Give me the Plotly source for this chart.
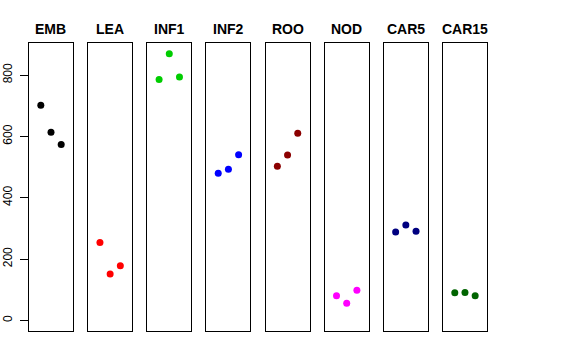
import plotly.graph_objects as go

tissues = ["EMB", "LEA", "INF1", "INF2", "ROO", "NOD", "CAR5", "CAR15"]
colors = ["#000000", "#FF0000", "#00CD00", "#0000FF", "#8B0000", "#FF00FF", "#000080", "#006400"]
replicate = [1, 2, 3]

emb = [702, 614, 574]
lea = [254, 151, 178]
inf1 = [786, 870, 794]
inf2 = [480, 493, 540]
roo = [503, 539, 610]
nod = [80, 56, 98]
car5 = [288, 311, 291]
car15 = [90, 91, 80]
values = [emb, lea, inf1, inf2, roo, nod, car5, car15]

y_ticks = [0, 200, 400, 600, 800]

W, H = 576, 360
fig = go.Figure()
left0, step, pw = 29, 59.14, 44
top, bottom = 43, 331

for i, (name, col, vals) in enumerate(zip(tissues, colors, values)):
    k = "" if i == 0 else str(i + 1)
    fig.add_trace(go.Scatter(
        x=replicate, y=vals, mode="markers",
        marker=dict(color=col, size=7, line=dict(width=0)),
        xaxis="x" + k, yaxis="y" + k, showlegend=False, hoverinfo="skip"))
    x0 = (left0 + i * step) / W
    x1 = (left0 + i * step + pw) / W
    fig.layout["xaxis" + k] = dict(
        domain=[x0, x1], range=[-0.16, 4.16], showticklabels=False, ticks="",
        showgrid=False, zeroline=False, showline=True, mirror=True, automargin=False,
        linecolor="black", linewidth=1, anchor="y" + k, fixedrange=True)
    yax = dict(
        domain=[1 - bottom / H, 1 - top / H], range=[-34.8, 904.8],
        showgrid=False, zeroline=False, showline=True, mirror=True, automargin=False,
        linecolor="black", linewidth=1, anchor="x" + k, fixedrange=True)
    if i == 0:
        yax.update(tickvals=y_ticks, ticktext=[str(v) for v in y_ticks],
                   ticks="outside", ticklen=8, tickcolor="black", tickwidth=1,
                   tickangle=-90, ticklabelstandoff=3,
                   tickfont=dict(family="Liberation Sans", size=12, color="black"))
    else:
        yax.update(showticklabels=False, ticks="")
    fig.layout["yaxis" + k] = yax
    fig.add_annotation(
        x=(x0 + x1) / 2, y=1 - 29 / H, xref="paper", yref="paper",
        text="<b>" + name + "</b>", showarrow=False,
        font=dict(family="Liberation Sans", size=14, color="black"),
        xanchor="center", yanchor="middle")

fig.update_layout(
    width=W, height=H, margin=dict(l=0, r=0, t=0, b=0, autoexpand=False),
    paper_bgcolor="white", plot_bgcolor="white")

fig.write_html("out.html", config={"displayModeBar": False},
               post_script="document.body.style.margin='0';document.body.style.overflow='hidden';")
